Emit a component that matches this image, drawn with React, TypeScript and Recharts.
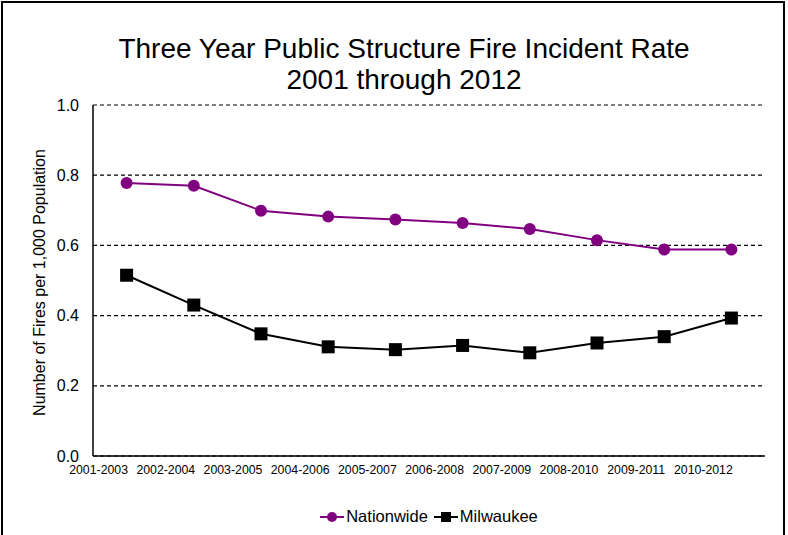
import {
  LineChart,
  Line,
  XAxis,
  YAxis,
  CartesianGrid,
  Legend,
  Label,
} from "recharts";

const periods = [
  "2001-2003",
  "2002-2004",
  "2003-2005",
  "2004-2006",
  "2005-2007",
  "2006-2008",
  "2007-2009",
  "2008-2010",
  "2009-2011",
  "2010-2012",
];
const nationwide = [0.778, 0.77, 0.699, 0.682, 0.674, 0.664, 0.647, 0.615, 0.588, 0.588];
const milwaukee = [0.515, 0.43, 0.348, 0.311, 0.303, 0.315, 0.294, 0.322, 0.34, 0.393];
const yTicks = [0, 0.2, 0.4, 0.6, 0.8, 1.0];
const seriesOrder = ["nationwide", "milwaukee"];

const data = periods.map((period, i) => ({
  period,
  nationwide: nationwide[i],
  milwaukee: milwaukee[i],
}));

const FONT = "Arial, 'Liberation Sans', sans-serif";
const PURPLE = "#800080";

function PeriodTick({ x, y, payload }: any) {
  // Excel put the labels half a category to the left of the points
  return (
    <text
      x={x - 28}
      y={y}
      dy="0.71em"
      textAnchor="middle"
      fontSize={12.3}
      fontFamily={FONT}
      fill="#000"
    >
      {payload.value}
    </text>
  );
}

function SquareDot({ cx, cy }: any) {
  if (cx == null || cy == null) return null;
  return <rect x={cx - 6.5} y={cy - 6.5} width={13} height={13} fill="#000" />;
}

function LegendContent({ payload }: any) {
  const items = [...(payload || [])].sort(
    (a: any, b: any) => seriesOrder.indexOf(a.dataKey) - seriesOrder.indexOf(b.dataKey)
  );
  return (
    <div
      style={{
        display: "flex",
        justifyContent: "center",
        alignItems: "center",
        fontFamily: FONT,
        fontSize: 16.5,
        color: "#000",
      }}
    >
      {items.map((item: any) => (
        <span key={item.value} style={{ display: "flex", alignItems: "center", marginRight: 6 }}>
          <svg width={24} height={14} style={{ marginRight: 2 }}>
            <line x1={0} y1={7} x2={24} y2={7} stroke={item.color} strokeWidth={2} />
            {item.dataKey === "milwaukee" ? (
              <rect x={7} y={2} width={10} height={10} fill={item.color} />
            ) : (
              <circle cx={12} cy={7} r={5} fill={item.color} />
            )}
          </svg>
          {item.value}
        </span>
      ))}
    </div>
  );
}

export default function App() {
  return (
    <div
      style={{
        position: "absolute",
        left: 0,
        top: 0,
        width: 788,
        height: 535,
        overflow: "hidden",
        background: "#fff",
      }}
    >
      <div
        style={{
          position: "absolute",
          left: 1,
          top: 1,
          width: 784,
          height: 600,
          border: "2px solid #000",
          boxSizing: "border-box",
        }}
      />
      <div
        style={{
          position: "absolute",
          left: 10,
          top: 33,
          width: 788,
          textAlign: "center",
          fontFamily: FONT,
          fontSize: 28,
          lineHeight: "31px",
          color: "#000",
        }}
      >
        Three Year Public Structure Fire Incident Rate
        <br />
        2001 through 2012
      </div>
      <LineChart
        width={788}
        height={535}
        data={data}
        margin={{ top: 105, right: 23, bottom: 49, left: 0 }}
        style={{ position: "absolute", left: 0, top: 0 }}
      >
        <CartesianGrid
          vertical={false}
          stroke="#000"
          strokeDasharray="4 3"
          strokeWidth={1.2}
        />
        <XAxis
          dataKey="period"
          height={30}
          padding={{ left: 33.6, right: 33.6 }}
          tickLine={false}
          tickSize={0}
          tickMargin={9}
          interval={0}
          tick={<PeriodTick />}
          axisLine={{ stroke: "#000", strokeWidth: 1.5 }}
        />
        <YAxis
          width={93}
          domain={[0, 1]}
          ticks={yTicks}
          tickFormatter={(v: number) => v.toFixed(1)}
          tickLine={false}
          tickSize={0}
          tickMargin={14}
          axisLine={{ stroke: "#000", strokeWidth: 1.5 }}
          tick={{ fill: "#000", fontSize: 16, fontFamily: FONT }}
        >
          <Label
            content={(props: any) => {
              const vb = props.viewBox || {};
              const cy = (vb.y || 0) + (vb.height || 0) / 2 + 2;
              return (
                <text
                  x={39}
                  y={cy}
                  transform={`rotate(-90, 39, ${cy})`}
                  textAnchor="middle"
                  dominantBaseline="central"
                  fontSize={16}
                  fontFamily={FONT}
                  fill="#000"
                >
                  Number of Fires per 1,000 Population
                </text>
              );
            }}
          />
        </YAxis>
        <YAxis
          yAxisId="right"
          orientation="right"
          width={0}
          domain={[0, 1]}
          tick={false}
          tickLine={false}
          axisLine={{ stroke: "#000", strokeWidth: 1.5 }}
        />
        <Legend
          layout="horizontal"
          verticalAlign="middle"
          align="center"
          content={<LegendContent />}
          wrapperStyle={{ top: 507, left: 38, width: 788, height: 20 }}
        />
        <Line
          type="linear"
          dataKey="nationwide"
          name="Nationwide"
          stroke={PURPLE}
          strokeWidth={2}
          dot={{ r: 6, fill: PURPLE, stroke: PURPLE, strokeWidth: 0 }}
          activeDot={false}
          isAnimationActive={false}
        />
        <Line
          type="linear"
          dataKey="milwaukee"
          name="Milwaukee"
          stroke="#000"
          strokeWidth={2}
          dot={<SquareDot />}
          activeDot={false}
          isAnimationActive={false}
        />
      </LineChart>
    </div>
  );
}
